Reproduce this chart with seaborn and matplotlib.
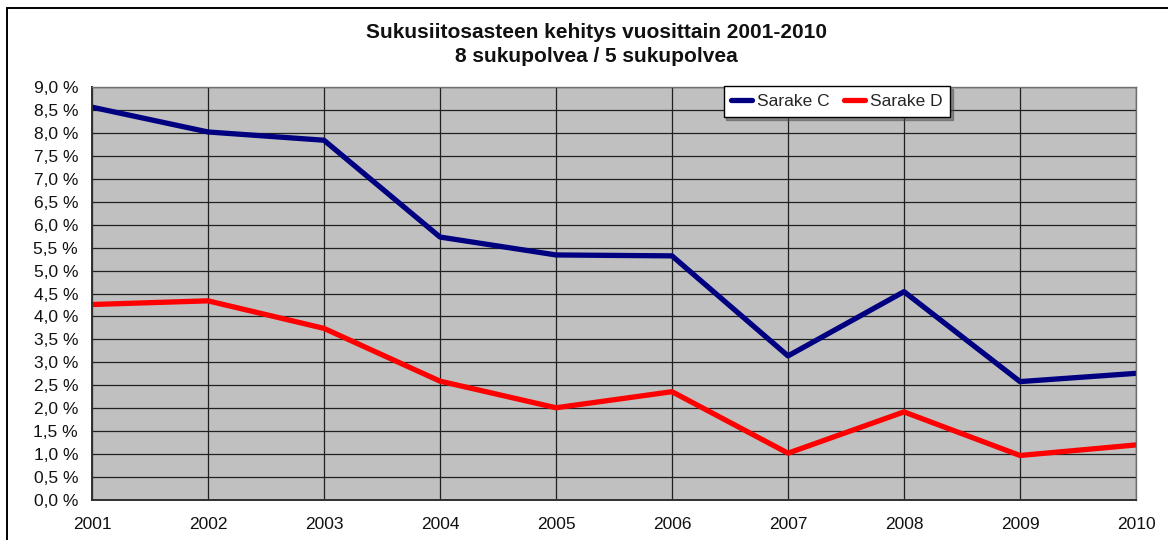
import matplotlib
matplotlib.use("Agg")
import matplotlib.pyplot as plt
import seaborn as sns
import pandas as pd
from matplotlib.ticker import FuncFormatter, MultipleLocator
from matplotlib.patches import Rectangle

years = [2001, 2002, 2003, 2004, 2005, 2006, 2007, 2008, 2009, 2010]
sarake_c = [8.56, 8.02, 7.84, 5.73, 5.34, 5.32, 3.14, 4.54, 2.58, 2.76]
sarake_d = [4.26, 4.34, 3.74, 2.59, 2.01, 2.36, 1.02, 1.92, 0.97, 1.20]
series_names = ["Sarake C", "Sarake D"]
title_lines = ["Sukusiitosasteen kehitys vuosittain 2001-2010", "8 sukupolvea / 5 sukupolvea"]

df = pd.DataFrame({
    "year": years * 2,
    "value": sarake_c + sarake_d,
    "series": [series_names[0]] * len(years) + [series_names[1]] * len(years),
})

sns.set_style("white")
plt.rcParams["font.family"] = ["Liberation Sans", "DejaVu Sans"]

fig = plt.figure(figsize=(11.68, 5.40), dpi=100)
ax = fig.add_axes([92 / 1168, 40 / 540, (1136 - 92) / 1168, (500 - 87) / 540])

# outer chart border
fig.patches.append(Rectangle((7 / 1168, -0.1), 1.2, (540 - 8) / 540 + 0.1,
                             transform=fig.transFigure, fill=False,
                             edgecolor="black", linewidth=1.4, zorder=0))

sns.lineplot(data=df, x="year", y="value", hue="series",
             palette={"Sarake C": "#000080", "Sarake D": "#ff0000"},
             linewidth=3.8, ax=ax, legend=True)

ax.set_facecolor("#c0c0c0")
ax.set_xlim(2001, 2010)
ax.set_ylim(0, 9)
ax.set_xticks(years)
ax.set_xticklabels([str(y) for y in years])
ax.yaxis.set_major_locator(MultipleLocator(0.5))
ax.yaxis.set_major_formatter(FuncFormatter(lambda v, p: f"{v:.1f} %".replace(".", ",")))
ax.grid(True, color="#202020", linewidth=0.9)
ax.set_axisbelow(True)
ax.set_xlabel("")
ax.set_ylabel("")
for s in ["top", "right"]:
    ax.spines[s].set_color("#707070")
    ax.spines[s].set_linewidth(1.0)
for s in ["left", "bottom"]:
    ax.spines[s].set_color("#303030")
    ax.spines[s].set_linewidth(1.4)
ax.tick_params(axis="both", which="both", direction="out", length=7, width=1,
               color="#303030", labelsize=12.5, labelcolor="#111111", pad=3)
ax.tick_params(axis="x", pad=5)

handles, labels = ax.get_legend_handles_labels()
ax.legend(handles, labels, loc="center", ncol=2,
          bbox_to_anchor=(837 / 1168, (540 - 101.5) / 540),
          bbox_transform=fig.transFigure, frameon=True, fancybox=False,
          shadow=True, fontsize=12.5, handlelength=1.2, handletextpad=0.3,
          columnspacing=0.8, borderpad=0.45, edgecolor="black",
          framealpha=1.0)
ax.get_legend().get_frame().set_linewidth(1.0)

fig.text(596 / 1168, 1 - 32 / 540, title_lines[0], ha="center", va="center",
         fontsize=15, fontweight="bold", color="#111111")
fig.text(596 / 1168, 1 - 56 / 540, title_lines[1], ha="center", va="center",
         fontsize=15, fontweight="bold", color="#111111")

fig.savefig("out.png", dpi=100)
